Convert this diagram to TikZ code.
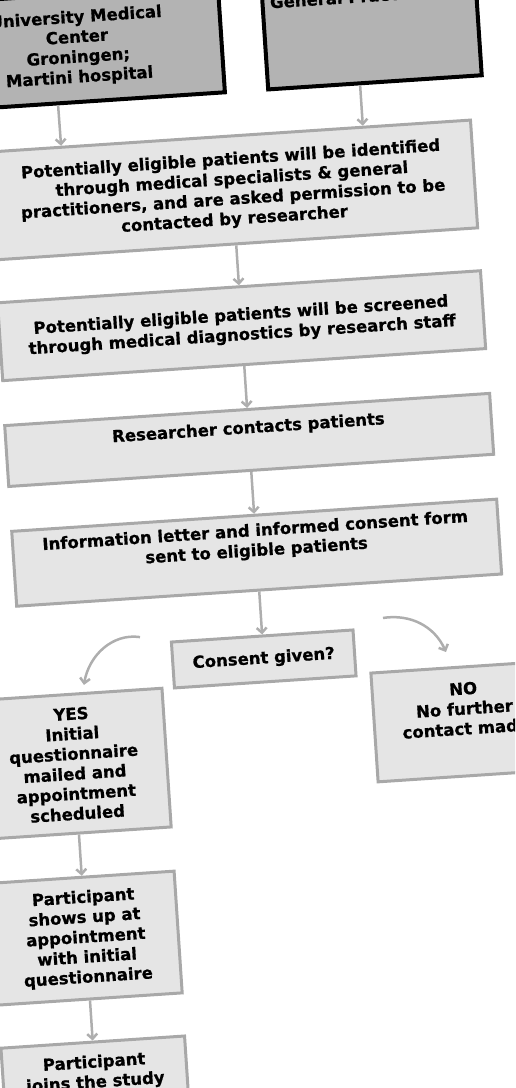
\documentclass[tikz,border=0pt]{standalone}
\usepackage{fontspec}
\setmainfont{DejaVu Sans}[BoldFeatures={FakeBold=0.8}]
\usetikzlibrary{arrows.meta,positioning}
\definecolor{siteGray}{RGB}{179,179,179}
\definecolor{boxGray}{RGB}{229,229,229}
\definecolor{rimGray}{RGB}{168,168,168}
\definecolor{flowGray}{RGB}{174,174,174}

\begin{document}
\begin{tikzpicture}[x=1pt,y=1pt,
    font=\fontsize{16.5}{20}\selectfont\bfseries,
    site/.style={draw=black,line width=4pt,fill=siteGray,align=center,inner sep=0pt},
    stage/.style={draw=rimGray,line width=3pt,fill=boxGray,align=center,inner sep=0pt},
    flow/.style={draw=flowGray,line width=2.5pt,-{Straight Barb[length=5pt,width=10pt]}}]
  \useasboundingbox (0,0) rectangle (515,-1088);
  \clip (0,0) rectangle (515,-1088);
  \begin{scope}[rotate=3.8,transform shape]
    \node[site,minimum width=288pt,minimum height=108pt] (umcg) at (74.3,-53)
      {University Medical\\Center\\Groningen;\\Martini hospital};
    \node[site,minimum width=214pt,minimum height=108pt] (gp) at (368.7,-53)
      {General Practitioners\\\strut\\\strut\\\strut};
    \node[stage,minimum width=484pt,minimum height=108pt] (ident) at (219.5,-205)
      {Potentially eligible patients will be identified\\through medical specialists \& general\\practitioners, and are asked permission to be\\contacted by researcher};
    \node[stage,minimum width=484pt,minimum height=78pt] (screen) at (219.5,-341)
      {Potentially eligible patients will be screened\\through medical diagnostics by research staff};
    \node[stage,minimum width=486pt,minimum height=61pt] (contact) at (219.5,-455.5)
      {Researcher contacts patients\\\strut};
    \node[stage,minimum width=486pt,minimum height=75pt] (letter) at (219.5,-568.5)
      {Information letter and informed consent form\\sent to eligible patients\\\strut};
    \node[stage,minimum width=182pt,minimum height=46pt] (consent) at (219.5,-675)
      {Consent given?};
    \node[stage,minimum width=185pt,minimum height=139pt] (yes) at (23.5,-767)
      {YES\\Initial\\questionnaire\\mailed and\\appointment\\scheduled};
    \node[stage,minimum width=182pt,minimum height=109pt] (no) at (416.5,-750.7)
      {NO\\No further\\contact made\\\strut};
    \node[stage,minimum width=185pt,minimum height=122pt] (shows) at (23.5,-941.8)
      {Participant\\shows up at\\appointment\\with initial\\questionnaire};
    \node[stage,minimum width=184pt,minimum height=62pt] (joins) at (23.5,-1077)
      {Participant\\joins the study};

    \coordinate (yesFrom) at (97.5,-645);
    \coordinate (yesTo) at (38.4,-689);
    \coordinate (noFrom) at (341.2,-642);
    \coordinate (noTo) at (401.8,-680.2);

    \draw[flow] ([xshift=-23.3pt]umcg.south) -- ([xshift=-168.2pt]ident.north);
    \draw[flow] ([xshift=-15pt]gp.south) -- ([xshift=134.2pt]ident.north);
    \foreach \a/\b in {ident/screen,screen/contact,contact/letter,letter/consent,yes/shows,shows/joins}
      \draw[flow] (\a) -- (\b);
    \draw[flow] (yesFrom) to[out=168,in=77] (yesTo);
    \draw[flow] (noFrom) to[out=5,in=110] (noTo);
  \end{scope}
\end{tikzpicture}
\end{document}
